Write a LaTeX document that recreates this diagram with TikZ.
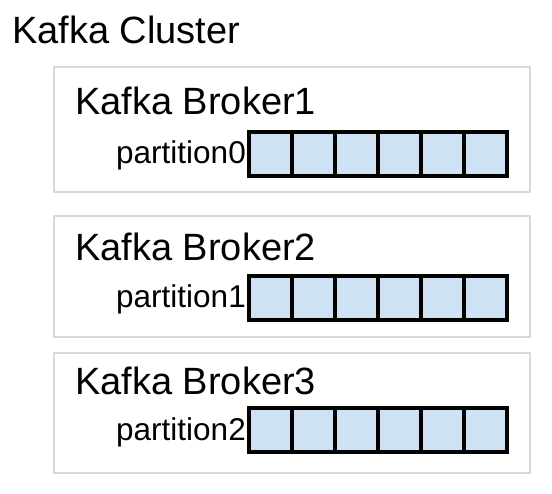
\documentclass[tikz,border=0pt]{standalone}
\usepackage{fontspec}
\setmainfont{Liberation Sans}
\definecolor{boxgray}{HTML}{D9D9D9}
\definecolor{cellblue}{HTML}{CFE2F3}
\begin{document}
\begin{tikzpicture}[x=1pt,y=-1pt,
  broker/.style={draw=boxgray, line width=2pt, inner sep=0pt, outer sep=0pt,
    minimum width=476pt, anchor=north west},
  cell/.style={draw=black, fill=cellblue, line width=3.5pt, minimum width=43pt,
    minimum height=44pt, inner sep=0pt, outer sep=0pt, anchor=north west},
  title/.style={font=\fontsize{38}{45}\selectfont, anchor=base west, inner sep=0pt},
  plabel/.style={font=\fontsize{31.5}{37}\selectfont, anchor=base east, inner sep=0pt}]
\useasboundingbox (0,0) rectangle (552,494);
\node[title] (cluster) at (12,44) {Kafka Cluster};
% brokers
\node[broker, minimum height=125pt] (b1) at (54,67) {};
\node[broker, minimum height=121pt] (b2) at (54,216) {};
\node[broker, minimum height=120pt] (b3) at (54,353) {};
\node[title] (t1) at (75,115) {Kafka Broker1};
\node[title] (t2) at (75,261) {Kafka Broker2};
\node[title] (t3) at (75,395) {Kafka Broker3};
% partitions
\foreach \i in {0,...,5} {
  \node[cell] (p0c\i) at ({249+43*\i},132) {};
  \node[cell] (p1c\i) at ({249+43*\i},276) {};
  \node[cell] (p2c\i) at ({249+43*\i},408) {};
}
\node[plabel] (l0) at (246,164) {partition0};
\node[plabel] (l1) at (246,308) {partition1};
\node[plabel] (l2) at (246,440) {partition2};
\end{tikzpicture}
\end{document}
